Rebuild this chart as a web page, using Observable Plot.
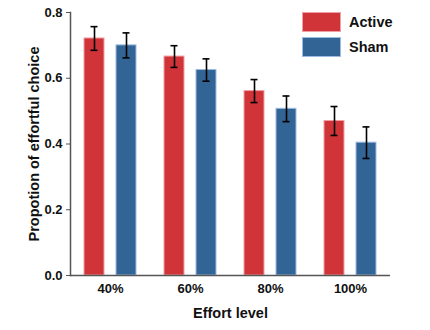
<!DOCTYPE html>
<html>
<head>
<meta charset="utf-8">
<script src="https://cdn.jsdelivr.net/npm/d3@7"></script>
<script src="https://cdn.jsdelivr.net/npm/@observablehq/plot@0.6"></script>
<style>
  html, body { margin: 0; padding: 0; background: #fff; }
  #wrap { position: relative; width: 430px; height: 330px; font-family: "Liberation Sans", Arial, sans-serif; }
  #legend { position: absolute; left: 302px; top: 10px; font-weight: bold; font-size: 14.5px; color: #111; }
  .item { display: flex; align-items: center; height: 24.5px; }
  .sw { width: 39px; height: 20px; margin-right: 8px; box-sizing: border-box; }
</style>
</head>
<body>
<div id="wrap"><div id="legend"></div></div>
<script>
const efforts = ["40%", "60%", "80%", "100%"];
const groups = ["Active", "Sham"];
const activeMean = [0.721, 0.666, 0.561, 0.470];
const activeErr  = [0.036, 0.033, 0.035, 0.044];
const shamMean   = [0.700, 0.625, 0.507, 0.404];
const shamErr    = [0.038, 0.034, 0.039, 0.048];
const yTicks = [0, 0.2, 0.4, 0.6, 0.8];
const colors = ["#d13438", "#326496"];
const edges = ["#f0a0a4", "#9dbbe0"];

const data = [];
efforts.forEach((e, i) => {
  data.push({effort: e, group: "Active", mean: activeMean[i], err: activeErr[i]});
  data.push({effort: e, group: "Sham", mean: shamMean[i], err: shamErr[i]});
});

const chart = Plot.plot({
  width: 430,
  height: 330,
  marginLeft: 70,
  marginRight: 40,
  marginTop: 12,
  marginBottom: 55,
  style: {fontFamily: "Liberation Sans, Arial, sans-serif", fontWeight: "bold", color: "#111", background: "white"},
  fx: {domain: efforts, padding: 0, label: null},
  x: {domain: groups, paddingInner: 0.36, paddingOuter: 0.424, axis: null},
  y: {domain: [0, 0.8], label: null},
  color: {domain: groups, range: colors},
  marks: [
    Plot.barY(data, {fx: "effort", x: "group", y: "mean", fill: "group",
      stroke: d => edges[groups.indexOf(d.group)], strokeWidth: 1}),
    Plot.ruleX(data, {fx: "effort", x: "group", y1: d => d.mean - d.err, y2: d => d.mean + d.err,
      stroke: "#000", strokeWidth: 1.6}),
    Plot.tickY(data, {fx: "effort", x: "group", y: d => d.mean + d.err, stroke: "#000", strokeWidth: 1.6, insetLeft: 6.5, insetRight: 6.5}),
    Plot.tickY(data, {fx: "effort", x: "group", y: d => d.mean - d.err, stroke: "#000", strokeWidth: 1.6, insetLeft: 6.5, insetRight: 6.5}),
    Plot.ruleY([0], {stroke: "#555", strokeWidth: 1.5}),
    Plot.frame({anchor: "left", facetAnchor: "left", stroke: "#555", strokeWidth: 1.5}),
    Plot.axisY({ticks: yTicks, tickFormat: d3.format(".1f"), tickSize: 4, tickPadding: 4, fontSize: 13,
      stroke: "#555", label: null}),
    Plot.axisY({ticks: [], fontSize: 14.5, label: "Propotion of effortful choice", labelAnchor: "center", labelOffset: 42, labelArrow: "none"}),
    Plot.axisFx({anchor: "bottom", tickSize: 0, tickPadding: 8, fontSize: 13, label: null}),
    Plot.axisFx({anchor: "bottom", ticks: [], fontSize: 14.5, label: "Effort level", labelAnchor: "center", labelOffset: 42, labelArrow: "none"})
  ]
});
document.getElementById("wrap").prepend(chart);

const legend = document.getElementById("legend");
groups.forEach((g, i) => {
  const it = document.createElement("div");
  it.className = "item";
  const sw = document.createElement("div");
  sw.className = "sw";
  sw.style.background = colors[i];
  sw.style.border = "1px solid " + edges[i];
  const t = document.createElement("span");
  t.textContent = g;
  it.appendChild(sw); it.appendChild(t);
  legend.appendChild(it);
});
</script>
</body>
</html>
